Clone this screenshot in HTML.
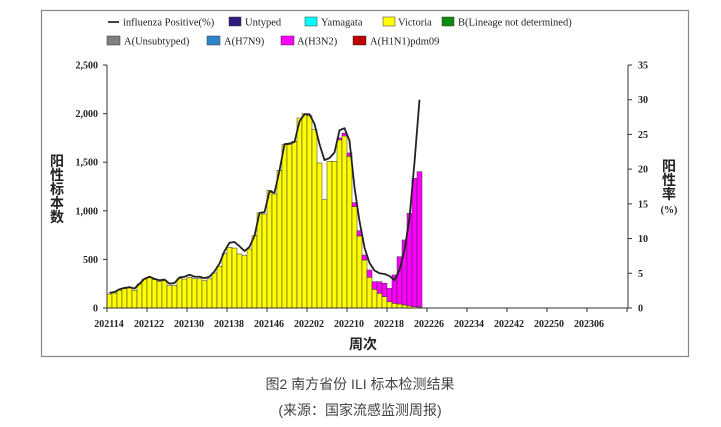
<!DOCTYPE html>
<html><head><meta charset="utf-8"><style>
body{margin:0;background:#fff;width:721px;height:427px;overflow:hidden}
svg{display:block}
.ser{font-family:"Liberation Serif","Noto Serif CJK SC",serif}
.cap{font-family:"Liberation Sans","Noto Sans CJK SC",sans-serif;fill:#444;font-size:14px}
</style></head><body>
<svg id="chart" width="721" height="427" viewBox="0 0 721 427" xmlns="http://www.w3.org/2000/svg">
<rect x="41.5" y="10.5" width="647" height="346" fill="#fff" stroke="#888" stroke-width="1.2"/>
<g id="legend" class="ser" font-size="10.5" fill="#222">
 <g><line x1="108" y1="22" x2="119" y2="22" stroke="#444" stroke-width="2"/><text x="123" y="25.5">influenza Positive(%)</text></g>
 <g><rect x="229" y="17" width="12" height="9" fill="#2e1a7a" stroke="#333" stroke-width="0.5"/><text x="245" y="25.5">Untyped</text></g>
 <g><rect x="305" y="17" width="12" height="9" fill="#00ffff" stroke="#333" stroke-width="0.5"/><text x="321" y="25.5">Yamagata</text></g>
 <g><rect x="383" y="17" width="12" height="9" fill="#ffff00" stroke="#333" stroke-width="0.5"/><text x="398" y="25.5">Victoria</text></g>
 <g><rect x="442" y="17" width="12" height="9" fill="#0a8a0a" stroke="#333" stroke-width="0.5"/><text x="458" y="25.5">B(Lineage not determined)</text></g>
 <g><rect x="107" y="36" width="13" height="9" fill="#808080" stroke="#333" stroke-width="0.5"/><text x="124" y="44.5">A(Unsubtyped)</text></g>
 <g><rect x="207" y="36" width="13" height="9" fill="#2e86c8" stroke="#333" stroke-width="0.5"/><text x="224" y="44.5">A(H7N9)</text></g>
 <g><rect x="281" y="36" width="13" height="9" fill="#ff00ff" stroke="#333" stroke-width="0.5"/><text x="297" y="44.5">A(H3N2)</text></g>
 <g><rect x="353" y="36" width="13" height="9" fill="#c00000" stroke="#333" stroke-width="0.5"/><text x="370" y="44.5">A(H1N1)pdm09</text></g>
</g>
<g id="plot"></g>
<g class="cap" font-size="11" font-weight="bold" fill="#222" text-anchor="middle" style="fill:#222">
 <text x="57" y="166">阳</text><text x="57" y="180">性</text><text x="57" y="194">标</text><text x="57" y="208">本</text><text x="57" y="222">数</text>
</g>
<g class="cap" font-size="11" font-weight="bold" text-anchor="middle" style="fill:#222">
 <text x="669" y="171">阳</text><text x="669" y="185">性</text><text x="669" y="199">率</text><text x="669" y="213" class="ser" font-size="10">(%)</text>
</g>
<text class="cap" x="363" y="349" font-size="11" font-weight="bold" text-anchor="middle" style="fill:#222">周次</text>
<text class="cap" x="360" y="389" text-anchor="middle">图2  南方省份 ILI 标本检测结果</text>
<text class="cap" x="360" y="415" text-anchor="middle">(来源：国家流感监测周报)</text>
</svg>
<script>
const victoria=[144,154,182,199,206,182,247,298,316,292,274,281,230,233,302,298,316,302,302,281,300,360,429,559,624,617,556,538,607,744,978,967,1211,1173,1417,1681,1681,1715,1955,2000,1980,1835,1492,1115,1509,1509,1730,1770,1560,1043,741,494,316,192,151,117,65,48,41,31,21,14,10];
const h3n2=[0,0,0,0,0,0,0,0,0,0,0,0,0,0,0,0,0,0,0,0,0,0,0,0,0,0,0,0,0,0,0,0,0,0,0,0,0,0,0,0,0,0,0,0,0,0,20,30,35,41,55,51,75,79,120,137,137,292,487,669,953,1320,1393];
const positivePct=[2.2,2.3,2.7,2.9,3.0,2.8,3.5,4.2,4.5,4.2,4.0,4.1,3.5,3.6,4.4,4.5,4.8,4.5,4.5,4.3,4.5,5.3,6.4,8.2,9.4,9.5,8.9,8.2,8.8,10.4,13.7,13.8,16.8,16.6,19.8,23.6,23.7,23.9,26.9,27.9,27.9,26.5,23.6,21.3,21.6,22.4,25.6,25.9,24.1,17.4,12.5,8.7,6.5,5.4,5.0,4.9,4.6,4.0,5.5,8.3,13,21,30];
const xLabels=["202114","202122","202130","202138","202146","202202","202210","202218","202226","202234","202242","202250","202306"];
const leftTicks=[0,500,1000,1500,2000,2500];
const leftTickLabels=["0","500","1,000","1,500","2,000","2,500"];
const rightTicks=[0,5,10,15,20,25,30,35];

const NS="http://www.w3.org/2000/svg";
const plot=document.getElementById('plot');
const X0=107,BW=5,Y0=308,YT=65,XR=628;
const yL=v=>Y0-(v/2500)*(Y0-YT);
const yR=v=>Y0-(v/35)*(Y0-YT);
const xB=i=>X0+i*BW;
function mk(tag,attrs){const e=document.createElementNS(NS,tag);for(const k in attrs)e.setAttribute(k,attrs[k]);plot.appendChild(e);return e;}

victoria.forEach((v,i)=>{
  const r=mk('rect',{x:xB(i),y:yL(v),width:BW,height:Y0-yL(v),fill:'#ffff00',stroke:'#333','stroke-width':0.5});
  
  
  if(h3n2[i]>0){
    const m=mk('rect',{x:xB(i),y:yL(v+h3n2[i]),width:BW,height:yL(v)-yL(v+h3n2[i]),fill:'#ff00ff',stroke:'#333','stroke-width':0.5});
    
    
  }
});
const pts=positivePct.map((p,i)=>(xB(i)+BW/2)+','+yR(p)).join(' ');
const ln=mk('polyline',{points:pts,fill:'none',stroke:'#222','stroke-width':1.8,'stroke-linejoin':'round'});



// axes
const la=mk('line',{x1:X0,y1:YT,x2:X0,y2:Y0,stroke:'#333','stroke-width':1});


const ra=mk('line',{x1:XR,y1:YT,x2:XR,y2:Y0,stroke:'#333','stroke-width':1});


const xa=mk('line',{x1:X0-4,y1:Y0,x2:XR+4,y2:Y0,stroke:'#333','stroke-width':1});


leftTicks.forEach((v,i)=>{
  mk('line',{x1:X0-4,y1:yL(v),x2:X0,y2:yL(v),stroke:'#333'});
  const t=mk('text',{x:X0-9,y:yL(v)+3.5,'text-anchor':'end','font-size':10,'font-weight':'bold',fill:'#222',class:'ser'});
  t.textContent=leftTickLabels[i];
  
  
});
rightTicks.forEach(v=>{
  mk('line',{x1:XR,y1:yR(v),x2:XR+4,y2:yR(v),stroke:'#333'});
  const t=mk('text',{x:XR+10,y:yR(v)+3.5,'font-size':10,'font-weight':'bold',fill:'#222',class:'ser'});
  t.textContent=String(v);
  
  
});
for(let k=0;k<=13;k++){
  const x=X0+k*8*BW;
  mk('line',{x1:x,y1:Y0,x2:x,y2:Y0+4,stroke:'#333'});
}
xLabels.forEach((s,k)=>{
  const t=mk('text',{x:X0+k*8*BW+2,y:Y0+19,'text-anchor':'middle','font-size':10,'font-weight':'bold',fill:'#222',class:'ser'});
  t.textContent=s;
  
  
});
</script>
</body></html>
